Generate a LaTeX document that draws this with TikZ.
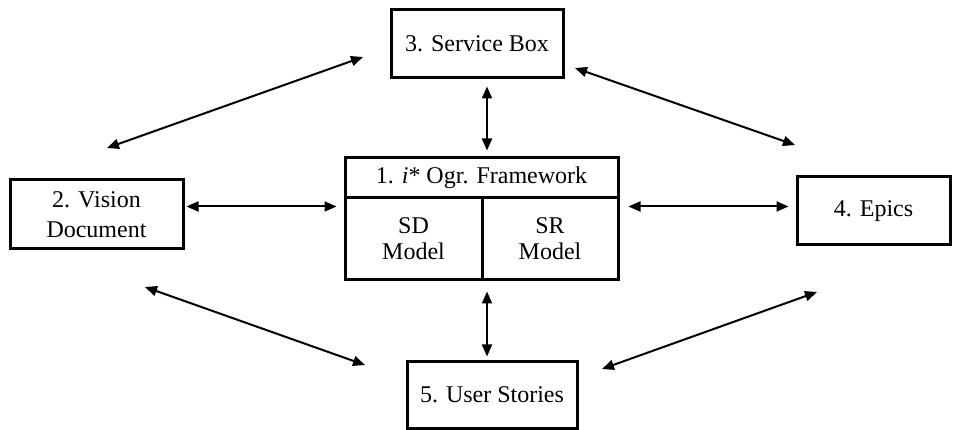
\documentclass[tikz,border=0pt]{standalone}
\usepackage{fontspec}
\setmainfont{Liberation Serif}
\usetikzlibrary{arrows.meta}
\begin{document}
\begin{tikzpicture}[x=1pt,y=-1pt,
  box/.style={draw=black,line width=3pt,fill=white,inner sep=0pt,
    font=\fontsize{24}{30}\selectfont,align=center},
  cell/.style={draw=black,line width=3pt,inner sep=0pt,
    font=\fontsize{24}{26}\selectfont,align=center},
  conn/.style={line width=2pt,{Triangle[length=12pt,width=10pt]}-{Triangle[length=12pt,width=10pt]}}]
\useasboundingbox (0,0) rectangle (959,430);

% outer components
\node[box,minimum width=172pt,minimum height=68pt] (svc) at (477,44) {3. Service Box};
\node[box,minimum width=173pt,minimum height=69pt] (vis) at (96.5,214.5) {2. Vision\\Document};
\node[box,minimum width=153pt,minimum height=68pt] (epi) at (873.5,211) {4. Epics};
\node[box,minimum width=170pt,minimum height=66pt] (usr) at (492,395) {5. User Stories};

% central framework: title strip and two model cells
\node[cell,minimum width=273pt,minimum height=40pt] (title) at (481.5,178) {1. \textit{i}* Ogr. Framework};
\node[cell,minimum width=137pt,minimum height=82pt] (sd) at (413.5,239) {SD\\Model};
\node[cell,minimum width=136pt,minimum height=82pt] (sr) at (550,239) {SR\\Model};

% guide coordinates for the straight connectors
\coordinate (vt) at (487,0);
\coordinate (hl) at (0,206.5);

\draw[conn,shorten <=7pt,shorten >=6pt] (svc.south -| vt) -- (title.north -| vt);
\draw[conn,shorten <=10pt,shorten >=4pt] (sd.south -| vt) -- (usr.north -| vt);
\draw[conn,shorten <=2pt,shorten >=7pt] (vis.east |- hl) -- (sd.west |- hl);
\draw[conn,shorten <=9pt,shorten >=7pt] (sr.east |- hl) -- (epi.west |- hl);

% diagonal connectors between the outer components
\coordinate (svcL) at (363,57);
\coordinate (visT) at (107,148);
\coordinate (svcR) at (575,68);
\coordinate (epiT) at (795,145);
\coordinate (visB) at (145,287);
\coordinate (usrL) at (365,365);
\coordinate (usrR) at (602,369);
\coordinate (epiB) at (817,292);
\draw[conn] (svcL) -- (visT);
\draw[conn] (svcR) -- (epiT);
\draw[conn] (visB) -- (usrL);
\draw[conn] (usrR) -- (epiB);
\end{tikzpicture}
\end{document}
